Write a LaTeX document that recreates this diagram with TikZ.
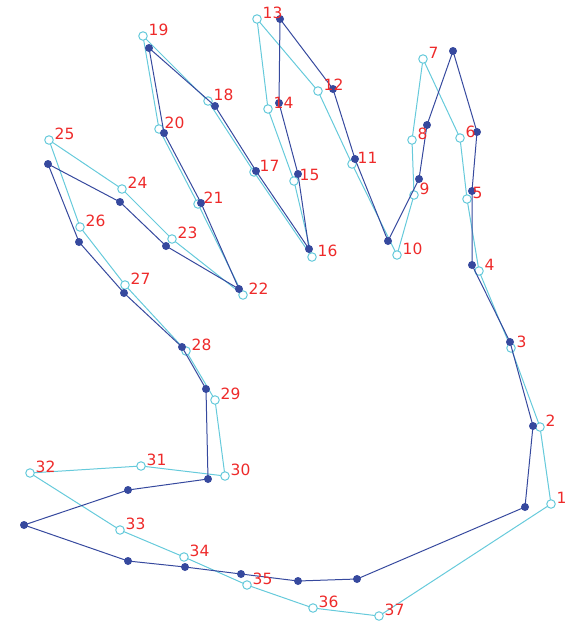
\documentclass[tikz,border=0pt]{standalone}
\usepackage{fontspec}
\setmainfont{DejaVu Sans}
\definecolor{cyanl}{HTML}{66CADB}
\definecolor{bluel}{HTML}{36499E}
\definecolor{labred}{HTML}{EE2A2A}
\tikzset{
  cline/.style={draw=cyanl, line width=1pt, line join=round},
  bline/.style={draw=bluel, line width=1pt, line join=round},
  cmark/.style={circle, draw=cyanl, fill=white, line width=1pt, minimum size=8.5pt, inner sep=0pt},
  bmark/.style={circle, fill=bluel, minimum size=8pt, inner sep=0pt},
  lab/.style={text=labred, font=\fontsize{15.5pt}{17pt}\selectfont, anchor=base west, inner sep=0pt}
}
\begin{document}
\begin{tikzpicture}[x=1pt,y=-1pt]
\useasboundingbox (0,0) rectangle (567,622);
\foreach \i/\x/\y in {1/551/504,2/540/427,3/511/348,4/479/271,5/467/199,6/460/138,7/423/59,8/412/140,9/414/195,10/397/255,11/352/164,12/318/91,13/257/19,14/268/109,15/294/181,16/312/257,17/254/172,18/208/101,19/143/36,20/159/129,21/198/204,22/243/295,23/172/239,24/122/189,25/49/140,26/80/227,27/125/285,28/186/351,29/215/400,30/225/476,31/141/466,32/30/473,33/120/530,34/184/557,35/247/585,36/313/608,37/379/616}
  \coordinate (c\i) at (\x,\y);
\foreach \i/\x/\y in {1/525/507,2/533/426,3/510/342,4/472/265,5/472/191,6/477/132,7/453/51,8/427/125,9/419/179,10/388/241,11/355/159,12/333/89,13/280/19,14/279/103,15/298/174,16/309/249,17/256/171,18/215/106,19/149/48,20/164/133,21/201/203,22/239/289,23/166/246,24/120/202,25/48/164,26/79/242,27/124/293,28/182/347,29/206/389,30/208/479,31/128/490,32/24/525,33/128/561,34/185/567,35/241/574,36/298/581,37/357/579}
  \coordinate (b\i) at (\x,\y);
\draw[cline] (c1) \foreach \i in {2,...,37} { -- (c\i) } -- cycle;
\foreach \i in {1,...,37} \node[cmark] (cm\i) at (c\i) {};
\draw[bline] (b1) \foreach \i in {2,...,37} { -- (b\i) } -- cycle;
\foreach \i in {1,...,37} \node[bmark] (bm\i) at (b\i) {};
\foreach \i in {1,...,37} \node[lab] (l\i) at ([xshift=5.5pt,yshift=1pt]c\i) {\i};
\end{tikzpicture}
\end{document}
